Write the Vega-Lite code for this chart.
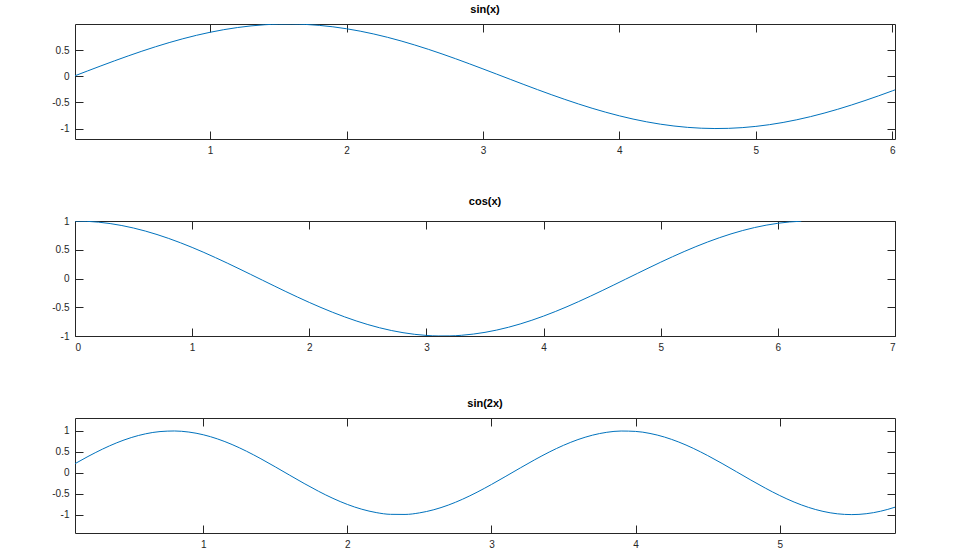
{
  "$schema": "https://vega.github.io/schema/vega-lite/v6.json",
  "padding": {"left": 51, "top": 3, "right": 5, "bottom": 5},
  "background": "white",
  "config": {
    "font": "Liberation Sans",
    "view": {"stroke": "#262626", "strokeWidth": 1},
    "axis": {"grid": false, "domain": false, "tickColor": "#262626", "tickSize": -8, "tickWidth": 1, "labelFont": "Liberation Sans", "labelFontSize": 10, "labelColor": "#262626", "labelPadding": 14, "title": null, "labelExpr": "'' + datum.value"},
    "title": {"font": "Liberation Sans", "fontSize": 11, "fontWeight": "bold", "color": "#000000", "offset": 9, "anchor": "middle"},
    "line": {"color": "#0072BD", "strokeWidth": 1}
  },
  "spacing": 82,
  "bounds": "flush",
  "datasets": {
    "s1": [
      {"x": 0.0, "y": 0}, {"x": 0.1, "y": 0.0998}, {"x": 0.2, "y": 0.1987}, {"x": 0.3, "y": 0.2955}, {"x": 0.4, "y": 0.3894},
      {"x": 0.5, "y": 0.4794}, {"x": 0.6, "y": 0.5646}, {"x": 0.7, "y": 0.6442}, {"x": 0.8, "y": 0.7174}, {"x": 0.9, "y": 0.7833},
      {"x": 1.0, "y": 0.8415}, {"x": 1.1, "y": 0.8912}, {"x": 1.2, "y": 0.932}, {"x": 1.3, "y": 0.9636}, {"x": 1.4, "y": 0.9854},
      {"x": 1.5, "y": 0.9975}, {"x": 1.6, "y": 0.9996}, {"x": 1.7, "y": 0.9917}, {"x": 1.8, "y": 0.9738}, {"x": 1.9, "y": 0.9463},
      {"x": 2.0, "y": 0.9093}, {"x": 2.1, "y": 0.8632}, {"x": 2.2, "y": 0.8085}, {"x": 2.3, "y": 0.7457}, {"x": 2.4, "y": 0.6755},
      {"x": 2.5, "y": 0.5985}, {"x": 2.6, "y": 0.5155}, {"x": 2.7, "y": 0.4274}, {"x": 2.8, "y": 0.335}, {"x": 2.9, "y": 0.2392},
      {"x": 3.0, "y": 0.1411}, {"x": 3.1, "y": 0.0416}, {"x": 3.2, "y": -0.0584}, {"x": 3.3, "y": -0.1577}, {"x": 3.4, "y": -0.2555},
      {"x": 3.5, "y": -0.3508}, {"x": 3.6, "y": -0.4425}, {"x": 3.7, "y": -0.5298}, {"x": 3.8, "y": -0.6119}, {"x": 3.9, "y": -0.6878},
      {"x": 4.0, "y": -0.7568}, {"x": 4.1, "y": -0.8183}, {"x": 4.2, "y": -0.8716}, {"x": 4.3, "y": -0.9162}, {"x": 4.4, "y": -0.9516},
      {"x": 4.5, "y": -0.9775}, {"x": 4.6, "y": -0.9937}, {"x": 4.7, "y": -0.9999}, {"x": 4.8, "y": -0.9962}, {"x": 4.9, "y": -0.9825},
      {"x": 5.0, "y": -0.9589}, {"x": 5.1, "y": -0.9258}, {"x": 5.2, "y": -0.8835}, {"x": 5.3, "y": -0.8323}, {"x": 5.4, "y": -0.7728},
      {"x": 5.5, "y": -0.7055}, {"x": 5.6, "y": -0.6313}, {"x": 5.7, "y": -0.5507}, {"x": 5.8, "y": -0.4646}, {"x": 5.9, "y": -0.3739},
      {"x": 6.0, "y": -0.2794}, {"x": 6.1, "y": -0.1822}
    ],
    "s2": [
      {"x": 0.0, "y": 1}, {"x": 0.1, "y": 0.995}, {"x": 0.2, "y": 0.9801}, {"x": 0.3, "y": 0.9553}, {"x": 0.4, "y": 0.9211},
      {"x": 0.5, "y": 0.8776}, {"x": 0.6, "y": 0.8253}, {"x": 0.7, "y": 0.7648}, {"x": 0.8, "y": 0.6967}, {"x": 0.9, "y": 0.6216},
      {"x": 1.0, "y": 0.5403}, {"x": 1.1, "y": 0.4536}, {"x": 1.2, "y": 0.3624}, {"x": 1.3, "y": 0.2675}, {"x": 1.4, "y": 0.17},
      {"x": 1.5, "y": 0.0707}, {"x": 1.6, "y": -0.0292}, {"x": 1.7, "y": -0.1288}, {"x": 1.8, "y": -0.2272}, {"x": 1.9, "y": -0.3233},
      {"x": 2.0, "y": -0.4161}, {"x": 2.1, "y": -0.5048}, {"x": 2.2, "y": -0.5885}, {"x": 2.3, "y": -0.6663}, {"x": 2.4, "y": -0.7374},
      {"x": 2.5, "y": -0.8011}, {"x": 2.6, "y": -0.8569}, {"x": 2.7, "y": -0.9041}, {"x": 2.8, "y": -0.9422}, {"x": 2.9, "y": -0.971},
      {"x": 3.0, "y": -0.99}, {"x": 3.1, "y": -0.9991}, {"x": 3.2, "y": -0.9983}, {"x": 3.3, "y": -0.9875}, {"x": 3.4, "y": -0.9668},
      {"x": 3.5, "y": -0.9365}, {"x": 3.6, "y": -0.8968}, {"x": 3.7, "y": -0.8481}, {"x": 3.8, "y": -0.791}, {"x": 3.9, "y": -0.7259},
      {"x": 4.0, "y": -0.6536}, {"x": 4.1, "y": -0.5748}, {"x": 4.2, "y": -0.4903}, {"x": 4.3, "y": -0.4008}, {"x": 4.4, "y": -0.3073},
      {"x": 4.5, "y": -0.2108}, {"x": 4.6, "y": -0.1122}, {"x": 4.7, "y": -0.0124}, {"x": 4.8, "y": 0.0875}, {"x": 4.9, "y": 0.1865},
      {"x": 5.0, "y": 0.2837}, {"x": 5.1, "y": 0.378}, {"x": 5.2, "y": 0.4685}, {"x": 5.3, "y": 0.5544}, {"x": 5.4, "y": 0.6347},
      {"x": 5.5, "y": 0.7087}, {"x": 5.6, "y": 0.7756}, {"x": 5.7, "y": 0.8347}, {"x": 5.8, "y": 0.8855}, {"x": 5.9, "y": 0.9275},
      {"x": 6.0, "y": 0.9602}, {"x": 6.1, "y": 0.9833}, {"x": 6.2, "y": 0.9965}
    ],
    "s3": [
      {"x": 0.0, "y": 0}, {"x": 0.1, "y": 0.1987}, {"x": 0.2, "y": 0.3894}, {"x": 0.3, "y": 0.5646}, {"x": 0.4, "y": 0.7174},
      {"x": 0.5, "y": 0.8415}, {"x": 0.6, "y": 0.932}, {"x": 0.7, "y": 0.9854}, {"x": 0.8, "y": 0.9996}, {"x": 0.9, "y": 0.9738},
      {"x": 1.0, "y": 0.9093}, {"x": 1.1, "y": 0.8085}, {"x": 1.2, "y": 0.6755}, {"x": 1.3, "y": 0.5155}, {"x": 1.4, "y": 0.335},
      {"x": 1.5, "y": 0.1411}, {"x": 1.6, "y": -0.0584}, {"x": 1.7, "y": -0.2555}, {"x": 1.8, "y": -0.4425}, {"x": 1.9, "y": -0.6119},
      {"x": 2.0, "y": -0.7568}, {"x": 2.1, "y": -0.8716}, {"x": 2.2, "y": -0.9516}, {"x": 2.3, "y": -0.9937}, {"x": 2.4, "y": -0.9962},
      {"x": 2.5, "y": -0.9589}, {"x": 2.6, "y": -0.8835}, {"x": 2.7, "y": -0.7728}, {"x": 2.8, "y": -0.6313}, {"x": 2.9, "y": -0.4646},
      {"x": 3.0, "y": -0.2794}, {"x": 3.1, "y": -0.0831}, {"x": 3.2, "y": 0.1165}, {"x": 3.3, "y": 0.3115}, {"x": 3.4, "y": 0.4941},
      {"x": 3.5, "y": 0.657}, {"x": 3.6, "y": 0.7937}, {"x": 3.7, "y": 0.8987}, {"x": 3.8, "y": 0.9679}, {"x": 3.9, "y": 0.9985},
      {"x": 4.0, "y": 0.9894}, {"x": 4.1, "y": 0.9407}, {"x": 4.2, "y": 0.8546}, {"x": 4.3, "y": 0.7344}, {"x": 4.4, "y": 0.5849},
      {"x": 4.5, "y": 0.4121}, {"x": 4.6, "y": 0.2229}, {"x": 4.7, "y": 0.0248}, {"x": 4.8, "y": -0.1743}, {"x": 4.9, "y": -0.3665},
      {"x": 5.0, "y": -0.544}, {"x": 5.1, "y": -0.6999}, {"x": 5.2, "y": -0.8278}, {"x": 5.3, "y": -0.9228}, {"x": 5.4, "y": -0.9809},
      {"x": 5.5, "y": -1.0}, {"x": 5.6, "y": -0.9792}, {"x": 5.7, "y": -0.9193}, {"x": 5.8, "y": -0.8228}, {"x": 5.9, "y": -0.6935}
    ]
  },
  "vconcat": [
    {
      "title": "sin(x)",
      "width": 820,
      "height": 115,
      "data": {"name": "s1"},
      "layer": [
        {
          "mark": {"type": "line", "clip": true, "interpolate": "monotone"},
          "encoding": {
            "x": {"field": "x", "type": "quantitative", "scale": {"domain": [0.01, 6.02], "nice": false, "zero": false}, "axis": {"orient": "bottom", "values": [1, 2, 3, 4, 5, 6]}},
            "y": {"field": "y", "type": "quantitative", "scale": {"domain": [-1.2, 1.0], "nice": false, "zero": false}, "axis": {"orient": "left", "values": [-1, -0.5, 0, 0.5]}}
          }
        },
        {
          "mark": {"type": "line", "opacity": 0, "clip": true},
          "encoding": {
            "x": {"field": "x", "type": "quantitative", "axis": {"orient": "top", "labels": false, "values": [1, 2, 3, 4, 5, 6]}},
            "y": {"field": "y", "type": "quantitative", "axis": {"orient": "right", "labels": false, "values": [-1, -0.5, 0, 0.5]}}
          }
        }
      ],
      "resolve": {"axis": {"x": "independent", "y": "independent"}}
    },
    {
      "title": "cos(x)",
      "width": 820,
      "height": 115,
      "data": {"name": "s2"},
      "layer": [
        {
          "mark": {"type": "line", "clip": true, "interpolate": "monotone"},
          "encoding": {
            "x": {"field": "x", "type": "quantitative", "scale": {"domain": [0, 7], "nice": false, "zero": false}, "axis": {"orient": "bottom", "values": [0, 1, 2, 3, 4, 5, 6, 7]}},
            "y": {"field": "y", "type": "quantitative", "scale": {"domain": [-1, 1], "nice": false, "zero": false}, "axis": {"orient": "left", "values": [-1, -0.5, 0, 0.5, 1]}}
          }
        },
        {
          "mark": {"type": "line", "opacity": 0, "clip": true},
          "encoding": {
            "x": {"field": "x", "type": "quantitative", "axis": {"orient": "top", "labels": false, "values": [0, 1, 2, 3, 4, 5, 6, 7]}},
            "y": {"field": "y", "type": "quantitative", "axis": {"orient": "right", "labels": false, "values": [-1, -0.5, 0, 0.5, 1]}}
          }
        }
      ],
      "resolve": {"axis": {"x": "independent", "y": "independent"}}
    },
    {
      "title": "sin(2x)",
      "width": 820,
      "height": 115,
      "data": {"name": "s3"},
      "layer": [
        {
          "mark": {"type": "line", "clip": true, "interpolate": "monotone"},
          "encoding": {
            "x": {"field": "x", "type": "quantitative", "scale": {"domain": [0.11, 5.8], "nice": false, "zero": false}, "axis": {"orient": "bottom", "values": [1, 2, 3, 4, 5]}},
            "y": {"field": "y", "type": "quantitative", "scale": {"domain": [-1.44, 1.31], "nice": false, "zero": false}, "axis": {"orient": "left", "values": [-1, -0.5, 0, 0.5, 1]}}
          }
        },
        {
          "mark": {"type": "line", "opacity": 0, "clip": true},
          "encoding": {
            "x": {"field": "x", "type": "quantitative", "axis": {"orient": "top", "labels": false, "values": [1, 2, 3, 4, 5]}},
            "y": {"field": "y", "type": "quantitative", "axis": {"orient": "right", "labels": false, "values": [-1, -0.5, 0, 0.5, 1]}}
          }
        }
      ],
      "resolve": {"axis": {"x": "independent", "y": "independent"}}
    }
  ]
}
